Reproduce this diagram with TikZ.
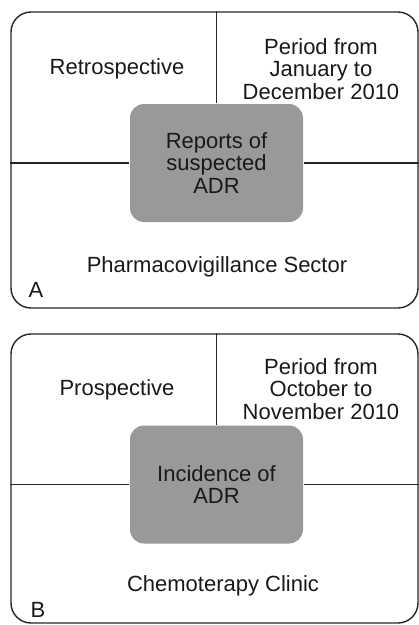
\documentclass[tikz,border=0pt]{standalone}
\usepackage{fontspec}
\setmainfont{Liberation Sans}
\usetikzlibrary{positioning}

\begin{document}
\begin{tikzpicture}[x=1pt, y=-1pt, line width=1.4pt,
    frame/.style={draw=black!85, rounded corners=20pt, minimum width=407pt},
    core/.style={fill=black!40, rounded corners=14pt, minimum width=173pt, minimum height=118pt, align=center},
    label/.style={align=center, font=\fontsize{22}{22.5}\selectfont, text=black!90}]
    \useasboundingbox (0,0) rectangle (419,625);

    % panel A
    \node [frame, minimum height=296pt] (frameA) at (214.5,160) {};
    \node [core, label] (coreA) at (216.5,163) {Reports of\\suspected\\ADR};
    \node [label] (kindA) at (117,69) {Retrospective};
    \node [label] (periodA) at (321,69) {Period from\\January to\\December 2010};
    \node [label] (sectorA) at (217,267) {Pharmacovigillance Sector};
    \node [label] (tagA) at (36,290) {A};

    \draw [black!85] (frameA.north -| coreA) -- (coreA.north);
    \draw [black!85] (frameA.west |- coreA.west) -- (coreA.west);
    \draw [black!85] (coreA.east) -- (frameA.east |- coreA.east);

    % panel B
    \node [frame, minimum height=289pt] (frameB) at (214.5,478.5) {};
    \node [core, label] (coreB) at (216.5,484.5) {Incidence of\\ADR};
    \node [label] (kindB) at (117,390) {Prospective};
    \node [label] (periodB) at (321,389) {Period from\\October to\\November 2010};
    \node [label] (sectorB) at (223,586) {Chemoterapy Clinic};
    \node [label] (tagB) at (38,610) {B};

    \draw [black!85] (frameB.north -| coreB) -- (coreB.north);
    \draw [black!85] (frameB.west |- coreB.west) -- (coreB.west);
    \draw [black!85] (coreB.east) -- (frameB.east |- coreB.east);
\end{tikzpicture}
\end{document}
